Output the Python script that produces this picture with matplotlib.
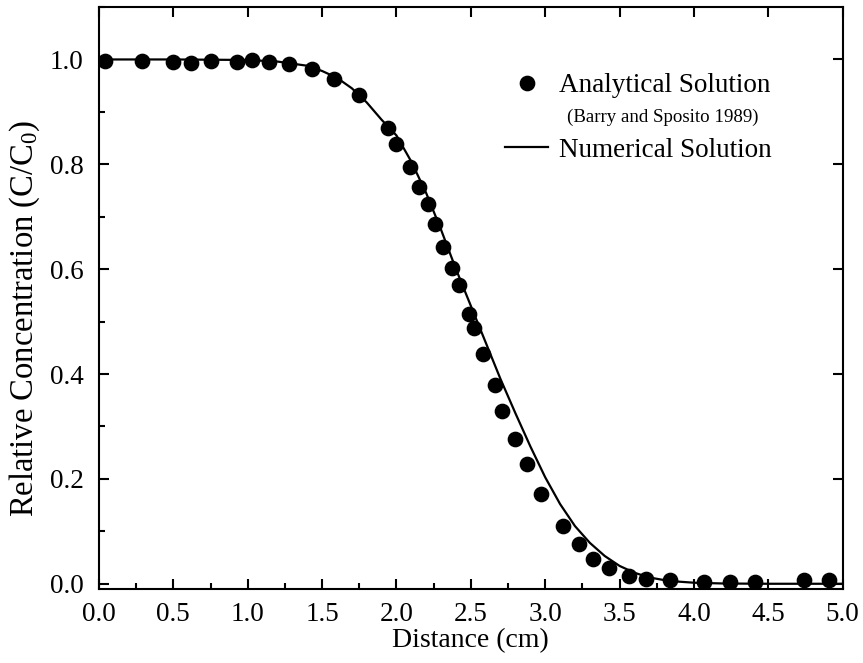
import matplotlib
matplotlib.use('Agg')
import matplotlib.pyplot as plt
from matplotlib.ticker import MultipleLocator
import numpy as np

plt.rcParams['font.family'] = ['Liberation Serif', 'DejaVu Serif']
plt.rcParams['mathtext.fontset'] = 'custom'
plt.rcParams['mathtext.rm'] = 'Liberation Serif'
plt.rcParams['mathtext.it'] = 'Liberation Serif:italic'

# analytical solution (Barry and Sposito 1989)
x_ana = [0.04, 0.29, 0.50, 0.62, 0.75, 0.93, 1.03, 1.14, 1.28, 1.43, 1.58, 1.75,
         1.94, 2.00, 2.09, 2.15, 2.21, 2.26, 2.31, 2.37, 2.42, 2.49, 2.52, 2.58,
         2.66, 2.71, 2.80, 2.88, 2.97, 3.12, 3.23, 3.32, 3.43, 3.56, 3.68, 3.84,
         4.07, 4.24, 4.41, 4.74, 4.91]
c_ana = [0.997, 0.997, 0.995, 0.993, 0.997, 0.996, 0.999, 0.996, 0.992, 0.981,
         0.962, 0.933, 0.869, 0.838, 0.794, 0.757, 0.724, 0.686, 0.643, 0.602,
         0.570, 0.514, 0.488, 0.439, 0.380, 0.329, 0.276, 0.229, 0.172, 0.111,
         0.075, 0.048, 0.030, 0.015, 0.010, 0.008, 0.003, 0.003, 0.003, 0.007,
         0.007]

# numerical solution
x_num = [0.0, 0.5, 1.0, 1.2, 1.4, 1.5, 1.6, 1.7, 1.8, 1.9, 2.0, 2.1, 2.2, 2.3,
         2.4, 2.5, 2.6, 2.7, 2.8, 2.9, 3.0, 3.1, 3.2, 3.3, 3.4, 3.5, 3.6, 3.7,
         3.8, 3.9, 4.0, 4.2, 4.5, 5.0]
c_num = [1.0, 1.0, 0.999, 0.996, 0.988, 0.978, 0.965, 0.945, 0.918, 0.885,
         0.855, 0.805, 0.745, 0.675, 0.600, 0.530, 0.460, 0.390, 0.325, 0.262,
         0.203, 0.152, 0.110, 0.078, 0.053, 0.034, 0.021, 0.012, 0.007, 0.004,
         0.002, 0.0005, 0.0, 0.0]

fs = 19.5

fig = plt.figure(figsize=(8.63, 6.63), dpi=100)
ax = fig.add_axes([0.1147, 0.1116, 0.8618, 0.8778])

ax.plot(x_ana, c_ana, 'o', color='black', markersize=10.3, label='Analytical Solution')
ax.plot(x_num, c_num, '-', color='black', linewidth=1.6, label='Numerical Solution')

ax.set_xlim(0, 5.0)
ax.set_ylim(-0.01, 1.1)
ax.xaxis.set_major_locator(MultipleLocator(0.5))
ax.xaxis.set_minor_locator(MultipleLocator(0.25))
ax.yaxis.set_major_locator(MultipleLocator(0.2))
ax.yaxis.set_minor_locator(MultipleLocator(0.1))
ax.xaxis.set_major_formatter(plt.FormatStrFormatter('%.1f'))
ax.yaxis.set_major_formatter(plt.FormatStrFormatter('%.1f'))

ax.tick_params(which='major', direction='in', length=7.5, width=1.5,
               top=True, right=True, labelsize=fs)
ax.tick_params(which='minor', direction='in', length=4.5, width=1.5,
               top=False, right=False)
ax.tick_params(axis='x', which='major', pad=9.5)
ax.tick_params(axis='y', which='major', pad=11)
for s in ax.spines.values():
    s.set_linewidth(1.5)

ax.set_xlabel('Distance (cm)', fontsize=20, labelpad=1)
ax.set_ylabel(r'Relative Concentration (C/C$_\mathregular{0}$)', fontsize=23.5)
ax.yaxis.set_label_coords(-0.076, 0.465)

leg = ax.legend(loc='upper left', bbox_to_anchor=(0.546, 0.886), frameon=False,
                fontsize=fs, labelspacing=1.45, handlelength=1.6,
                handletextpad=0.4, borderpad=0, borderaxespad=0)
ax.text(0.629, 0.81, '(Barry and Sposito 1989)', transform=ax.transAxes,
        fontsize=13.6, va='center', ha='left')

fig.savefig('out.png', dpi=100)
